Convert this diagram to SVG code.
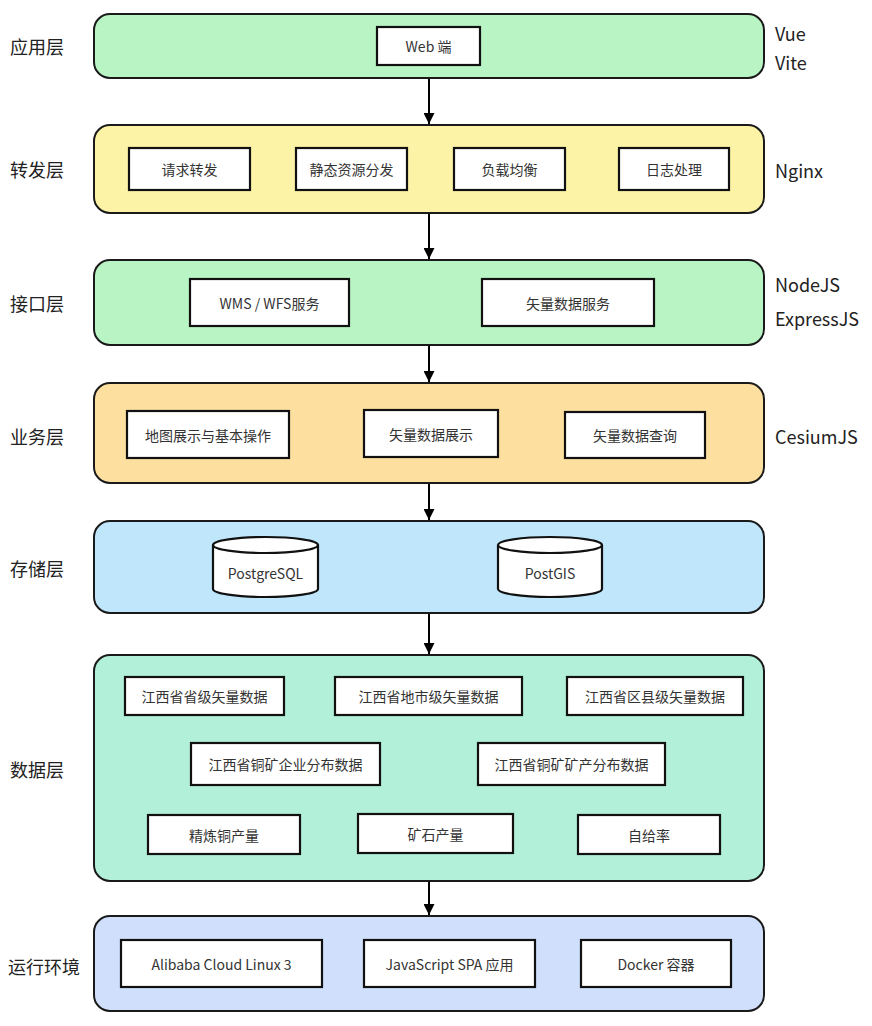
<svg xmlns="http://www.w3.org/2000/svg" width="872" height="1026" viewBox="0 0 872 1026">
<style>
.layer{stroke:#1a1a1a;stroke-width:2}
.box{fill:#fff;stroke:#111;stroke-width:2.2}
.t{font-family:"Noto Sans CJK SC","Noto Sans",sans-serif;font-size:14px;fill:#333;text-anchor:middle;dominant-baseline:central}
.lbl{font-family:"Noto Sans CJK SC","Noto Sans",sans-serif;font-size:18px;fill:#222;dominant-baseline:central}
.conn{stroke:#000;stroke-width:2;fill:none}
</style>
<defs>
<marker id="ah" viewBox="0 0 10 10" refX="10" refY="5" markerWidth="5.5" markerHeight="5.5" orient="auto">
<path d="M0,0 L10,5 L0,10 Z" fill="#000"/>
</marker>
</defs>
<rect width="872" height="1026" fill="#fff"/>

<g id="connectors">
<line class="conn" x1="429" y1="79" x2="429" y2="124" marker-end="url(#ah)"/>
<line class="conn" x1="429" y1="214" x2="429" y2="259" marker-end="url(#ah)"/>
<line class="conn" x1="429" y1="346" x2="429" y2="382" marker-end="url(#ah)"/>
<line class="conn" x1="429" y1="484" x2="429" y2="520" marker-end="url(#ah)"/>
<line class="conn" x1="429" y1="614" x2="429" y2="654" marker-end="url(#ah)"/>
<line class="conn" x1="429" y1="882" x2="429" y2="915" marker-end="url(#ah)"/>
</g>

<g id="layer-app">
<rect class="layer" x="94" y="14" width="670" height="64" rx="16" fill="#b9f5c4"/>
<text class="lbl" x="10" y="46">应用层</text>
<text class="lbl" x="775" y="33">Vue</text>
<text class="lbl" x="775" y="62">Vite</text>
<g id="web"><rect class="box" x="377" y="27" width="103" height="38"/><text class="t" x="428.5" y="46">Web 端</text></g>
</g>

<g id="layer-forward">
<rect class="layer" x="94" y="125" width="670" height="88" rx="16" fill="#fdf3a7"/>
<text class="lbl" x="10" y="169">转发层</text>
<text class="lbl" x="775" y="170">Nginx</text>
<g id="req"><rect class="box" x="129" y="148" width="121" height="42"/><text class="t" x="189.5" y="169">请求转发</text></g>
<g id="static"><rect class="box" x="296" y="148" width="111" height="42"/><text class="t" x="351.5" y="169">静态资源分发</text></g>
<g id="lb"><rect class="box" x="454" y="148" width="111" height="42"/><text class="t" x="509.5" y="169">负载均衡</text></g>
<g id="log"><rect class="box" x="619" y="148" width="110" height="42"/><text class="t" x="674" y="169">日志处理</text></g>
</g>

<g id="layer-api">
<rect class="layer" x="94" y="260" width="670" height="85" rx="16" fill="#b9f5c4"/>
<text class="lbl" x="10" y="303">接口层</text>
<text class="lbl" x="775" y="284">NodeJS</text>
<text class="lbl" x="775" y="318">ExpressJS</text>
<g id="wms"><rect class="box" x="190" y="279" width="159" height="47"/><text class="t" x="269.5" y="302.5">WMS / WFS服务</text></g>
<g id="vecsvc"><rect class="box" x="482" y="279" width="172" height="47"/><text class="t" x="568" y="302.5">矢量数据服务</text></g>
</g>

<g id="layer-biz">
<rect class="layer" x="94" y="383" width="670" height="100" rx="16" fill="#fde0a0"/>
<text class="lbl" x="10" y="436">业务层</text>
<text class="lbl" x="775" y="436">CesiumJS</text>
<g id="map"><rect class="box" x="127" y="411" width="162" height="47"/><text class="t" x="208" y="434.5">地图展示与基本操作</text></g>
<g id="vecshow"><rect class="box" x="364" y="410" width="134" height="47"/><text class="t" x="431" y="433.5">矢量数据展示</text></g>
<g id="vecquery"><rect class="box" x="565" y="412" width="140" height="46"/><text class="t" x="635" y="435">矢量数据查询</text></g>
</g>

<g id="layer-storage">
<rect class="layer" x="94" y="521" width="670" height="92" rx="16" fill="#c0e6fb"/>
<text class="lbl" x="10" y="568">存储层</text>
<g id="pg">
<path class="box" d="M213,545 L213,589 A52.5,8 0 0 0 318,589 L318,545"/>
<ellipse class="box" cx="265.5" cy="545" rx="52.5" ry="8"/>
<text class="t" x="265.5" y="573">PostgreSQL</text>
</g>
<g id="postgis">
<path class="box" d="M498,545 L498,589 A52,8 0 0 0 602,589 L602,545"/>
<ellipse class="box" cx="550" cy="545" rx="52" ry="8"/>
<text class="t" x="550" y="573">PostGIS</text>
</g>
</g>

<g id="layer-data">
<rect class="layer" x="94" y="655" width="670" height="226" rx="16" fill="#b3f0da"/>
<text class="lbl" x="10" y="769">数据层</text>
<g id="d1"><rect class="box" x="125" y="677" width="159" height="38"/><text class="t" x="204.5" y="696">江西省省级矢量数据</text></g>
<g id="d2"><rect class="box" x="335" y="677" width="187" height="38"/><text class="t" x="428.5" y="696">江西省地市级矢量数据</text></g>
<g id="d3"><rect class="box" x="567" y="677" width="176" height="38"/><text class="t" x="655" y="696">江西省区县级矢量数据</text></g>
<g id="d4"><rect class="box" x="191" y="743" width="189" height="42"/><text class="t" x="285.5" y="764">江西省铜矿企业分布数据</text></g>
<g id="d5"><rect class="box" x="478" y="743" width="187" height="42"/><text class="t" x="571.5" y="764">江西省铜矿矿产分布数据</text></g>
<g id="d6"><rect class="box" x="148" y="815" width="152" height="39"/><text class="t" x="224" y="834.5">精炼铜产量</text></g>
<g id="d7"><rect class="box" x="358" y="814" width="155" height="39"/><text class="t" x="435.5" y="833.5">矿石产量</text></g>
<g id="d8"><rect class="box" x="578" y="815" width="142" height="39"/><text class="t" x="649" y="834.5">自给率</text></g>
</g>

<g id="layer-runtime">
<rect class="layer" x="94" y="916" width="670" height="95" rx="16" fill="#d0dffb"/>
<text class="lbl" x="8" y="966">运行环境</text>
<g id="alinux"><rect class="box" x="121" y="940" width="201" height="47"/><text class="t" x="221.5" y="963.5">Alibaba Cloud Linux 3</text></g>
<g id="spa"><rect class="box" x="364" y="940" width="171" height="47"/><text class="t" x="449.5" y="963.5">JavaScript SPA 应用</text></g>
<g id="docker"><rect class="box" x="581" y="940" width="150" height="47"/><text class="t" x="656" y="963.5">Docker 容器</text></g>
</g>
</svg>
